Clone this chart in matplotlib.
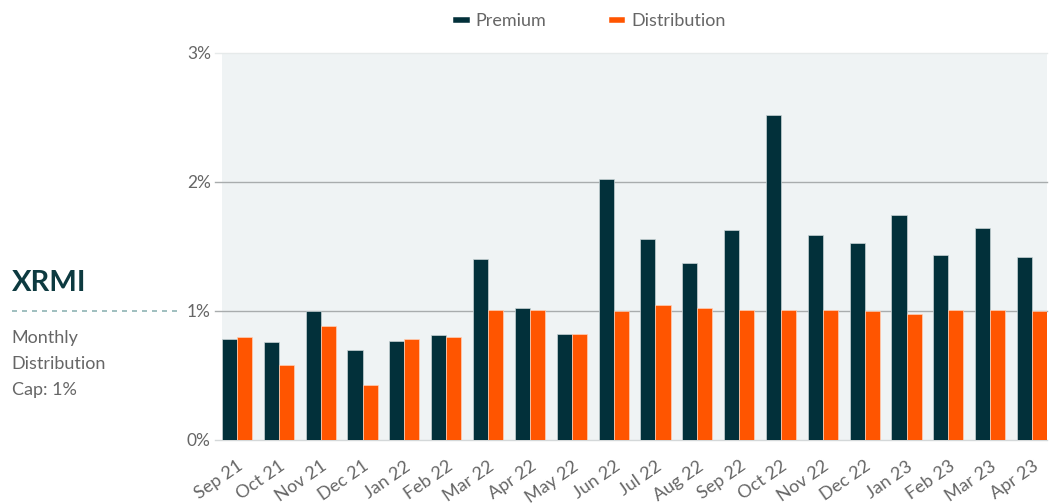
import numpy as np
import matplotlib.pyplot as plt
from matplotlib.lines import Line2D

months = ["Sep 21", "Oct 21", "Nov 21", "Dec 21", "Jan 22", "Feb 22", "Mar 22",
          "Apr 22", "May 22", "Jun 22", "Jul 22", "Aug 22", "Sep 22", "Oct 22",
          "Nov 22", "Dec 22", "Jan 23", "Feb 23", "Mar 23", "Apr 23"]
premium = [0.78, 0.76, 1.00, 0.70, 0.77, 0.81, 1.40, 1.02, 0.82, 2.02,
           1.56, 1.37, 1.63, 2.52, 1.59, 1.53, 1.74, 1.43, 1.64, 1.42]
distribution = [0.80, 0.58, 0.88, 0.43, 0.78, 0.80, 1.01, 1.01, 0.82, 1.00,
                1.05, 1.02, 1.01, 1.01, 1.01, 1.00, 0.98, 1.01, 1.01, 1.00]
yticks = [0, 1, 2, 3]

c_prem = "#02303a"
c_dist = "#ff5500"
c_text = "#666666"

plt.rcParams['font.family'] = ['Lato', 'DejaVu Sans']

fig = plt.figure(figsize=(10.59, 5.04), dpi=100)
ax = fig.add_axes([0.2096, 0.127, 0.7792, 0.768])
ax.set_facecolor("#eff3f4")

x = np.arange(len(months))
w = 0.36
ax.bar(x - w/2, premium, w, color=c_prem, edgecolor="#c9d4d6", linewidth=0.5, zorder=3)
ax.bar(x + w/2, distribution, w, color=c_dist, edgecolor="#ffd0b8", linewidth=0.5, zorder=3)

ax.set_xlim(-w, len(months) - 1 + w)
ax.set_ylim(0, 3)

# grid lines, extending a bit left of the plot like ticks
line_cols = {0: "#d4d8d9", 1: "#a8acad", 2: "#a8acad", 3: "#e6eaea"}
for v in yticks:
    ax.axhline(v, xmin=-0.008, xmax=1, color=line_cols[v], linewidth=1,
               clip_on=False, zorder=1)

for s in ax.spines.values():
    s.set_visible(False)

ax.set_yticks(yticks)
ax.set_yticklabels([f"{v}%" for v in yticks], fontsize=12.5, color=c_text)
ax.tick_params(axis="y", length=0, pad=8)
ax.set_xticks(x)
ax.set_xticklabels(months, rotation=35, ha="right", rotation_mode="anchor",
                   fontsize=13, color=c_text)
ax.tick_params(axis="x", length=0, pad=13)

handles = [Line2D([0], [0], color=c_prem, lw=4),
           Line2D([0], [0], color=c_dist, lw=4)]
fig.legend(handles, ["Premium", "Distribution"], loc="center",
           bbox_to_anchor=(0.558, 0.958), ncol=2, frameon=False,
           fontsize=13, labelcolor=c_text, handlelength=0.6,
           handletextpad=0.5, columnspacing=3.6)

# side annotation
fig.text(0.011, 0.438, "XRMI", fontsize=21, fontweight="bold", color="#0d3a40",
         ha="left", va="center")
fig.add_artist(Line2D([0.011, 0.172], [0.383, 0.383], color="#8fb4b4",
                      lw=1.2, linestyle=(0, (3, 3))))
fig.text(0.011, 0.346, "Monthly\nDistribution\nCap: 1%", fontsize=13,
         color=c_text, ha="left", va="top", linespacing=1.8)

plt.savefig("out.png", dpi=100)
